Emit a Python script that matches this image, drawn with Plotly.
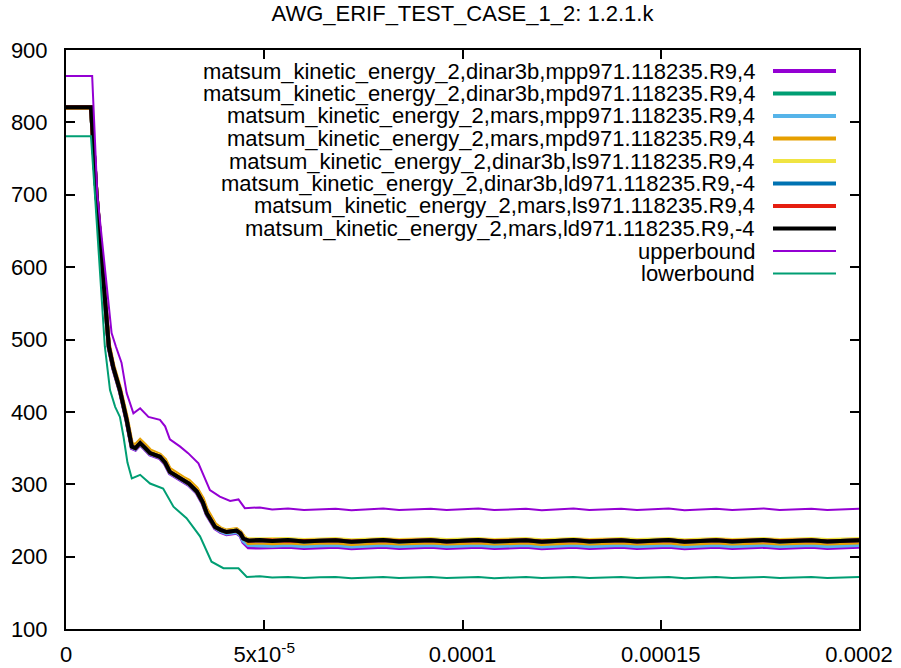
import plotly.graph_objects as go

# time grids in microseconds (converted to seconds for plotting)
T_MID = [0, 6.3, 7.7, 9.8, 10.8, 11.9, 13.6, 15.3, 16.1, 16.6, 17.5, 18.7, 20.0, 21.2, 23.7, 25.0,
         26.2, 28.0, 29.6, 31.0, 33.0, 34.5, 35.5, 37.6, 39.0, 40.5, 43.0, 44.0, 44.7, 46.0, 48.9]
T_UP = [0, 6.6, 7.9, 10.5, 11.5, 12.6, 14.0, 15.3, 17.0, 18.7, 20.8, 23.7, 25.0, 26.2, 28.8, 30.8,
        33.4, 36.3, 38.8, 41.4, 43.5, 45.1, 48.9]
T_LO = [0, 6.3, 7.3, 9.0, 9.8, 11.1, 12.4, 13.6, 14.5, 15.5, 16.6, 18.7, 21.2, 24.5, 27.1, 30.4,
        33.8, 36.7, 39.7, 43.5, 45.6, 48.9]
T_FLAT = [52, 56, 60, 64, 68, 72, 76, 80, 84, 88, 92, 96, 100, 104, 108, 112, 116, 120, 124, 128,
          132, 136, 140, 144, 148, 152, 156, 160, 164, 168, 172, 176, 180, 184, 188, 192, 196, 200]

# dinar3b,mpp
mpp_d3b = [820, 820, 700, 562, 488, 460, 428, 387, 359, 350, 348, 355, 348, 341, 336, 328, 315, 309,
           304, 299, 288, 273, 258, 239, 234, 231, 233, 229, 220, 213, 212.5]
mpp_d3b_flat = [212.5, 213.5, 212, 213, 213.5, 211.5, 212.5, 213.5, 212, 212.5, 213.5, 212, 213, 213.5,
                212, 212.5, 213.5, 211.5, 213, 213.5, 212, 212.5, 213.5, 212, 213, 213.5, 211.5, 212.5,
                213.5, 212, 213, 213.5, 212, 212.5, 213.5, 212, 213, 213.5]
# dinar3b,mpd
mpd_d3b = [820, 820, 700, 564, 490, 462, 430, 389, 361, 352, 350, 357, 350, 343, 338, 330, 317, 311,
           306, 301, 290, 275, 260, 241, 237, 234, 236, 232, 225, 221, 220.5]
mpd_d3b_flat = [220.5, 221.5, 220, 221, 221.5, 219.5, 220.5, 221.5, 220, 220.5, 221.5, 220, 221, 221.5,
                220, 220.5, 221.5, 219.5, 221, 221.5, 220, 220.5, 221.5, 220, 221, 221.5, 219.5, 220.5,
                221.5, 220, 221, 221.5, 220, 220.5, 221.5, 220, 221, 221.5]
# mars,mpp
mpp_mars = [820, 820, 700, 563, 489, 461, 429, 388, 360, 351, 349, 356, 349, 342, 337, 329, 316, 310,
            305, 300, 289, 274, 259, 240, 235, 232, 234, 230, 222, 216, 215.5]
mpp_mars_flat = [215, 216, 214.5, 215.5, 216, 214, 215, 216, 214.5, 215, 216, 214.5, 215.5, 216, 214.5,
                 215, 216, 214, 215.5, 216, 214.5, 215, 216, 214.5, 215.5, 216, 214, 215, 216, 214.5,
                 215.5, 216, 214.5, 215, 216, 214.5, 215.5, 216]
# mars,mpd
mpd_mars = [820, 820, 702, 568, 494, 465, 433, 393, 366, 356, 354, 361, 354, 347, 341, 334, 321, 314,
            309, 305, 294, 280, 265, 245, 239, 236, 238, 234, 228, 219, 219.5]
mpd_mars_flat = [218.5, 219.5, 218, 219, 219.5, 217.5, 218.5, 219.5, 218, 218.5, 219.5, 218, 219, 219.5,
                 218, 218.5, 219.5, 217.5, 219, 219.5, 218, 218.5, 219.5, 218, 219, 219.5, 217.5, 218.5,
                 219.5, 218, 219, 219.5, 218, 218.5, 219.5, 218, 219, 219.5]
# dinar3b,ls
ls_d3b = [821, 821, 701, 565, 491, 463, 431, 390, 362, 353, 351, 358, 351, 344, 339, 331, 318, 312,
          307, 302, 291, 276, 261, 242, 238, 235, 237, 233, 227, 224, 224]
ls_d3b_flat = [224, 224.5, 223, 224, 224.5, 222.5, 223.5, 224.5, 223, 223.5, 224.5, 223, 224, 224.5,
               223, 223.5, 224.5, 222.5, 224, 224.5, 223, 223.5, 224.5, 223, 224, 224.5, 222.5, 223.5,
               224.5, 223, 224, 224.5, 223, 223.5, 224.5, 223, 224, 224.5]
# dinar3b,ld
ld_d3b = [821, 821, 700, 564, 490, 462, 430, 389, 361, 352, 350, 357, 350, 343, 338, 330, 317, 311,
          306, 301, 290, 275, 260, 241, 237, 234, 236, 232, 225, 222, 222]
ld_d3b_flat = [221.5, 222.5, 221, 222, 222.5, 220.5, 221.5, 222.5, 221, 221.5, 222.5, 221, 222, 222.5,
               221, 221.5, 222.5, 220.5, 222, 222.5, 221, 221.5, 222.5, 221, 222, 222.5, 220.5, 221.5,
               222.5, 221, 222, 222.5, 221, 221.5, 222.5, 221, 222, 222.5]
# mars,ls
ls_mars = [821, 821, 700, 564, 490, 462, 430, 389, 361, 352, 350, 357, 350, 343, 338, 330, 317, 311,
           306, 301, 290, 275, 260, 241, 237, 234, 236, 232, 225, 222, 222.5]
ls_mars_flat = [222, 222.5, 221.5, 222, 222.5, 221, 222, 222.5, 221.5, 222, 222.5, 221, 222, 222.5,
                221.5, 222, 222.5, 221, 222, 222.5, 221.5, 222, 222.5, 221, 222, 222.5, 221, 222,
                222.5, 221.5, 222, 222.5, 221.5, 222, 222.5, 221, 222, 222.5]
# mars,ld
ld_mars = [821, 821, 700, 564, 490, 462, 430, 389, 361, 352, 350, 357, 350, 343, 338, 330, 317, 311,
           306, 301, 290, 275, 260, 241, 237, 234, 236, 232, 225, 222, 223]
ld_mars_flat = [221.5, 223, 221, 222, 222.5, 220.5, 222, 223, 221, 221.5, 222.5, 221, 222, 223, 221,
                221.5, 222.5, 220.5, 222, 223, 221, 221.5, 222.5, 221, 222, 223, 220.5, 221.5, 222.5,
                221, 222, 223, 221, 221.5, 222.5, 221, 222, 222.5]
# bounds
upper = [864, 864, 700, 564, 509, 490, 468, 426, 398, 405, 393, 389, 380, 362, 352, 343, 329, 292,
         283, 277, 279, 267, 268]
upper_flat = [265, 266.5, 264.5, 265.5, 266, 264, 265.5, 266.5, 264.5, 265, 266, 264.5, 265.5, 266.5,
              264.5, 265, 266, 264, 265.5, 266.5, 264.5, 265, 266, 264.5, 265.5, 266.5, 264, 265, 266,
              264.5, 265.5, 266.5, 264.5, 265, 266, 264.5, 265.5, 266]
lower = [781, 781, 700, 564, 490, 430, 407, 393, 366, 330, 308, 313, 301, 294, 269, 253, 228, 193,
         184, 184, 172, 173]
lower_flat = [171, 172, 170.5, 171.5, 172, 170, 171, 172, 170.5, 171, 172, 170.5, 171.5, 172, 170, 171,
              172, 170.5, 171.5, 172, 170.5, 171, 172, 170.5, 171, 172, 170, 171, 172, 170.5, 171.5,
              172, 170.5, 171, 172, 170.5, 171, 172]

names = [
    "matsum_kinetic_energy_2,dinar3b,mpp971.118235.R9,4",
    "matsum_kinetic_energy_2,dinar3b,mpd971.118235.R9,4",
    "matsum_kinetic_energy_2,mars,mpp971.118235.R9,4",
    "matsum_kinetic_energy_2,mars,mpd971.118235.R9,4",
    "matsum_kinetic_energy_2,dinar3b,ls971.118235.R9,4",
    "matsum_kinetic_energy_2,dinar3b,ld971.118235.R9,-4",
    "matsum_kinetic_energy_2,mars,ls971.118235.R9,4",
    "matsum_kinetic_energy_2,mars,ld971.118235.R9,-4",
    "upperbound",
    "lowerbound",
]
colors = ["#9400d3", "#009e73", "#56b4e9", "#e69f00", "#f0e442", "#0072b2", "#e51e10", "#000000",
          "#9400d3", "#009e73"]
widths = [4, 4, 4, 4, 4, 4, 4, 4, 2, 2]

series = [
    (T_MID, mpp_d3b, mpp_d3b_flat), (T_MID, mpd_d3b, mpd_d3b_flat),
    (T_MID, mpp_mars, mpp_mars_flat), (T_MID, mpd_mars, mpd_mars_flat),
    (T_MID, ls_d3b, ls_d3b_flat), (T_MID, ld_d3b, ld_d3b_flat),
    (T_MID, ls_mars, ls_mars_flat), (T_MID, ld_mars, ld_mars_flat),
    (T_UP, upper, upper_flat), (T_LO, lower, lower_flat),
]

FONT = "Liberation Sans, Arial, sans-serif"
FS = 22

fig = go.Figure()
for (t0, v0, vf), name, c, w in zip(series, names, colors, widths):
    assert len(t0) == len(v0) and len(vf) == len(T_FLAT), name
    x = [t * 1e-6 for t in t0 + T_FLAT]
    fig.add_trace(go.Scatter(x=x, y=v0 + vf, mode="lines", name=name,
                             line=dict(color=c, width=w), showlegend=False))

# gnuplot-style key: right aligned text, sample line to the right
L, R, T, B = 66, 859, 50, 629
pw, ph = R - L, B - T
for i, (name, c, w) in enumerate(zip(names, colors, widths)):
    py = 71 + 22.5 * i
    yp = (B - py) / ph
    fig.add_annotation(x=(757 - L) / pw, y=yp, xref="paper", yref="paper", text=name,
                       showarrow=False, xanchor="right", yanchor="middle",
                       font=dict(family=FONT, size=FS, color="black"))
    fig.add_shape(type="line", xref="paper", yref="paper", x0=(773 - L) / pw, x1=(836 - L) / pw,
                  y0=yp, y1=yp, line=dict(color=c, width=w))

axis = dict(showline=True, linecolor="black", linewidth=2, mirror="ticks", ticks="inside",
            ticklen=9, tickwidth=1.5, tickcolor="black", showgrid=False, zeroline=False,
            automargin=False, tickfont=dict(family=FONT, size=FS, color="black"))

fig.update_layout(
    width=901, height=668,
    margin=dict(l=L, r=901 - R, t=T, b=668 - B),
    paper_bgcolor="white", plot_bgcolor="white",
    title=dict(text="AWG_ERIF_TEST_CASE_1_2: 1.2.1.k", x=0.5, xref="paper", xanchor="center",
               y=1 - 6 / 668, yanchor="top", font=dict(family=FONT, size=FS, color="black")),
    xaxis=dict(axis, range=[0, 2e-4], tickvals=[0, 5e-5, 1e-4, 1.5e-4, 2e-4],
               ticktext=["0", "5x10<sup>-5</sup>", "0.0001", "0.00015", "0.0002"],
               ticklabelstandoff=5),
    yaxis=dict(axis, range=[100, 900], tickvals=[100, 200, 300, 400, 500, 600, 700, 800, 900],
               ticklabelstandoff=12),
)

fig.write_html("out.html", config={"displayModeBar": False},
               post_script="document.body.style.margin='0';")
